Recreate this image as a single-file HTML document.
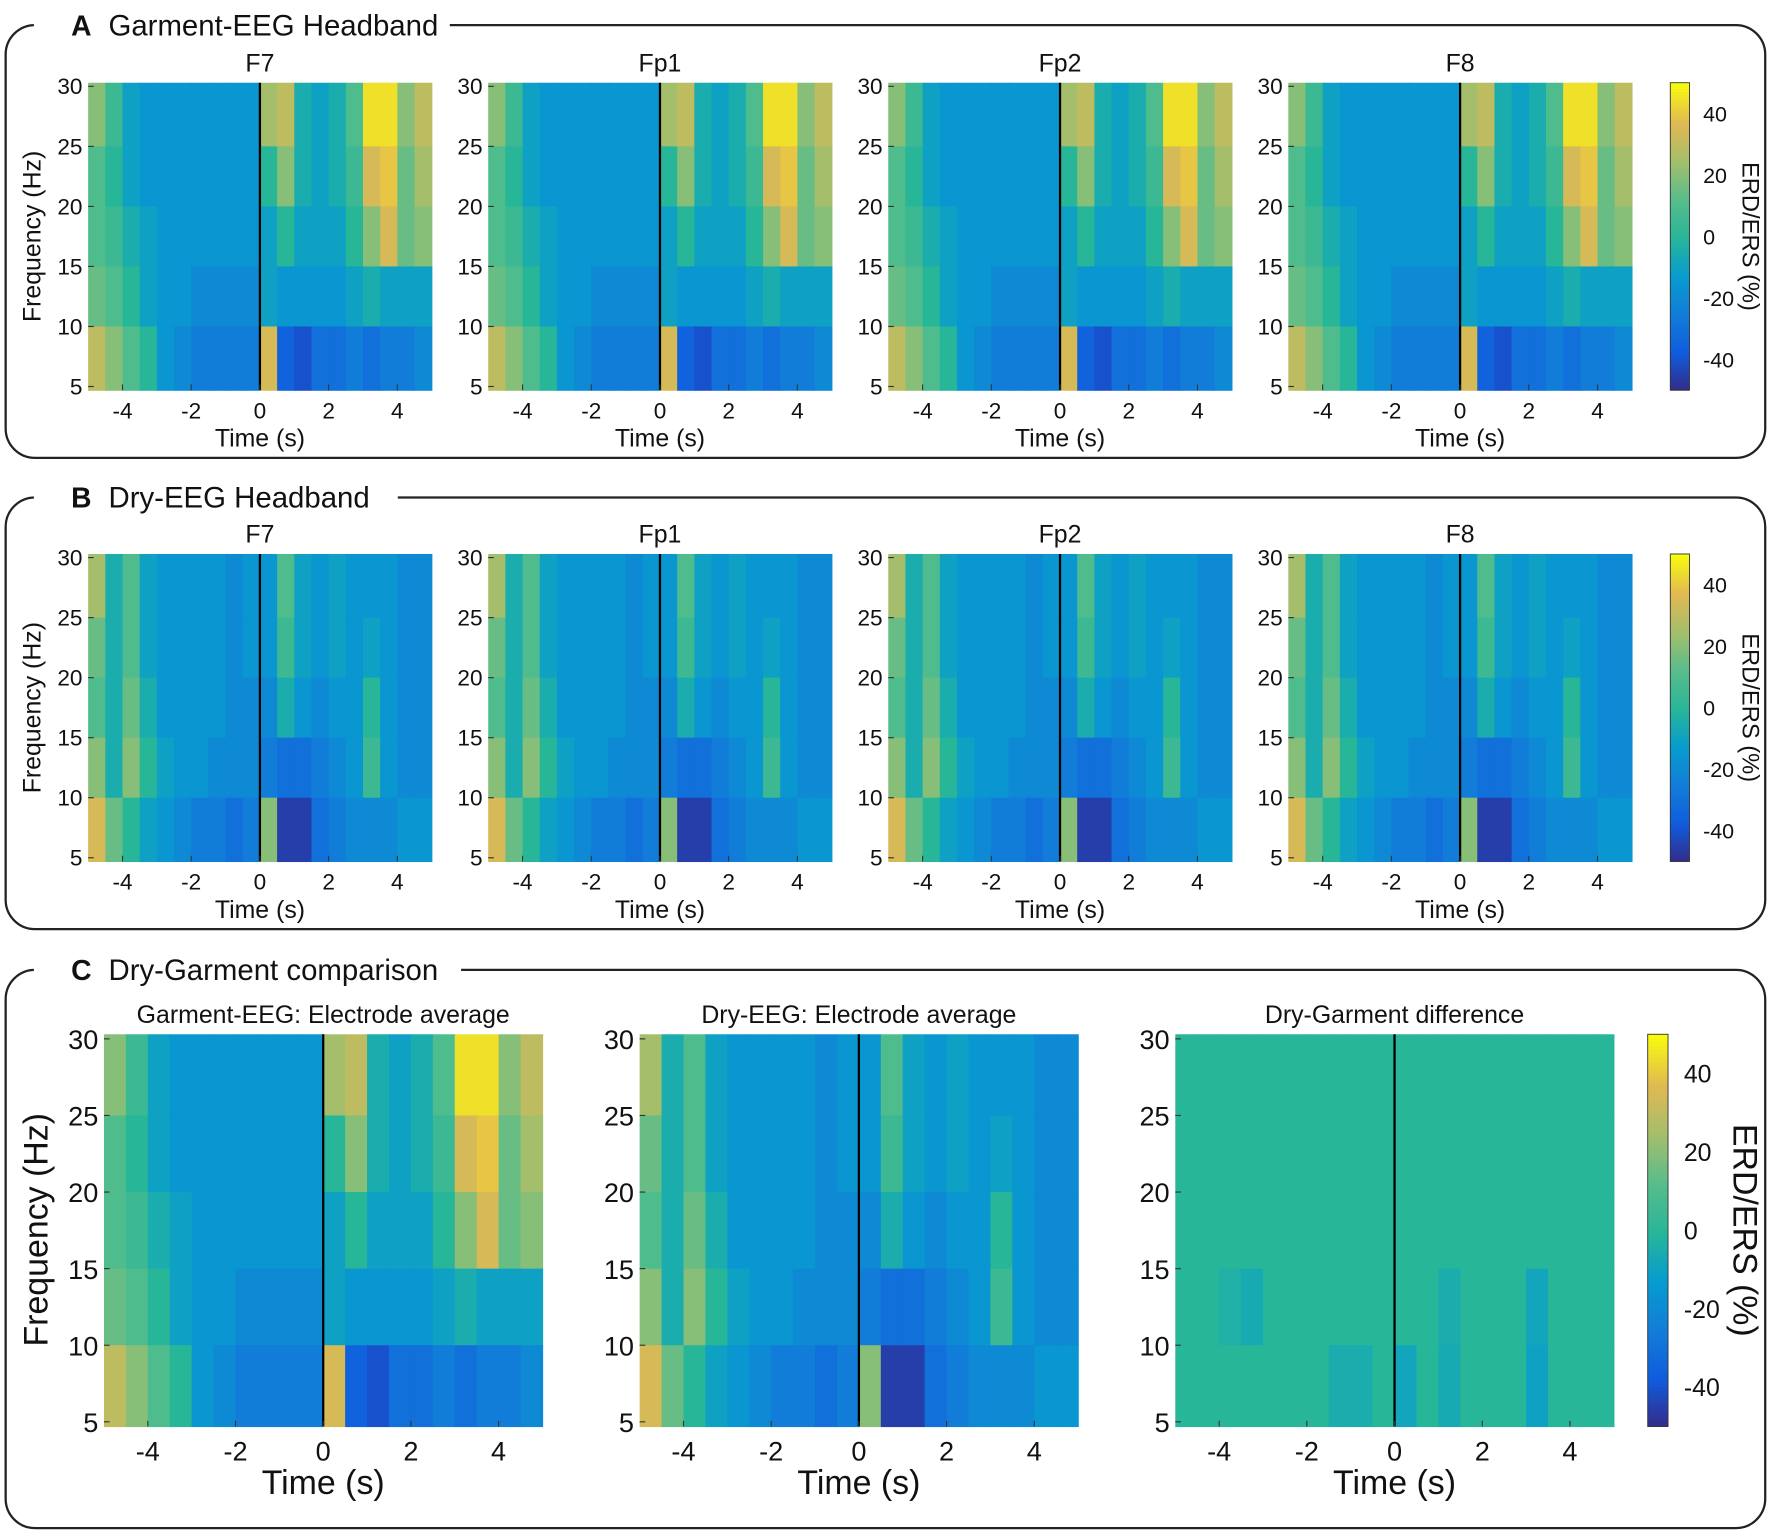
<!DOCTYPE html>
<html><head><meta charset="utf-8"><style>
html,body{margin:0;padding:0;background:#fff;}
svg{display:block;font-family:"Liberation Sans",Arial,sans-serif;}
</style></head><body>
<svg id="fig" width="1772" height="1534" viewBox="0 0 1568 1357" xmlns="http://www.w3.org/2000/svg"></svg>
<script>
// time bins (-5..5 step 0.5), freq bands (rows high->low)
const timeBins = [-5,-4.5,-4,-3.5,-3,-2.5,-2,-1.5,-1,-0.5,0,0.5,1,1.5,2,2.5,3,3.5,4,4.5];
const freqBands = [30,25,20,15,10,5];
const timeTicks = [-4,-2,0,2,4];
const freqTicks = [5,10,15,20,25,30];
const cbarTicks = [40,20,0,-20,-40];
const garment = [
 [20,5,-10,-15,-15,-15,-15,-15,-15,-15,25,30,-5,-10,-5,10,45,45,20,30],
 [10,0,-10,-15,-15,-15,-15,-15,-15,-15,0,20,-5,-10,-5,5,35,40,15,25],
 [10,5,-5,-10,-15,-15,-15,-15,-15,-15,-10,0,-10,-10,-10,0,20,35,15,20],
 [15,10,0,-10,-15,-15,-20,-20,-20,-20,-10,-15,-15,-15,-15,-10,-5,-10,-10,-10],
 [30,20,10,0,-15,-20,-25,-25,-25,-25,35,-35,-40,-30,-30,-25,-30,-25,-25,-20]
];
const dry = [
 [25,-5,10,-10,-15,-15,-15,-15,-20,-15,-15,10,-10,-15,-10,-15,-15,-15,-20,-20],
 [15,-5,10,-10,-15,-15,-15,-15,-20,-15,-15,5,-10,-15,-10,-15,-10,-15,-20,-20],
 [10,-5,15,-5,-15,-15,-15,-15,-20,-20,-20,-5,-15,-20,-15,-15,0,-15,-20,-20],
 [20,-5,20,0,-10,-15,-15,-20,-20,-20,-25,-30,-30,-25,-20,-15,5,-15,-20,-20],
 [35,15,0,-10,-15,-20,-25,-25,-30,-25,20,-45,-45,-30,-25,-20,-20,-20,-15,-15]
];
const diff = [
 [0,0,0,0,0,0,0,0,0,0,0,0,0,0,0,0,0,0,0,0],
 [0,0,0,0,0,0,0,0,0,0,0,0,0,0,0,0,0,0,0,0],
 [0,0,0,0,0,0,0,0,0,0,0,0,0,0,0,0,0,0,0,0],
 [0,0,-3,-6,0,0,0,0,0,0,0,0,-5,0,0,0,-8,0,0,0],
 [0,0,0,0,0,0,0,-5,-5,0,-8,0,-6,0,0,0,-10,0,0,0]
];
const electrodes = ["F7","Fp1","Fp2","F8"];

const NS="http://www.w3.org/2000/svg";
const svg=document.getElementById('fig');
function el(tag,attrs,parent){const e=document.createElementNS(NS,tag);for(const k in attrs)e.setAttribute(k,attrs[k]);(parent||svg).appendChild(e);return e;}
const stops=[[53,42,135],[15,92,221],[18,125,216],[7,156,207],[40,182,152],[89,189,140],[165,190,107],[225,185,82],[249,251,14]];
function color(v){let t=(v+50)/100;t=Math.max(0,Math.min(1,t));const p=t*(stops.length-1);const i=Math.min(stops.length-2,Math.floor(p));const f=p-i;const a=stops[i],b=stops[i+1];return `rgb(${a.map((c,j)=>Math.round(c+(b[j]-c)*f)).join(',')})`;}
function text(x,y,s,size,attrs){const t=el('text',Object.assign({x:x,y:y,'font-size':size,fill:'#111'},attrs||{}));t.textContent=s;return t;}

function heat(x0,y0,w,h,grid,title,big,name){
  const g=el('g',{});
  
  
  const xs=t=>x0+(t+5)/10*w;
  const ys=f=>y0+(30.3-f)/25.6*h;
  for(let r=0;r<grid.length;r++){for(let c=0;c<timeBins.length;c++){
    const xa=xs(timeBins[c]), xb=xs(timeBins[c]+0.5);
    const ya=r===0?y0:ys(freqBands[r]), yb=r===grid.length-1?y0+h:ys(freqBands[r+1]);
    const rc=el('rect',{x:xa,y:ya,width:xb-xa+0.6,height:yb-ya+0.6,fill:color(grid[r][c])},g);
    
    
  }}
  const zl=el('line',{x1:xs(0),x2:xs(0),y1:y0,y2:y0+h,stroke:'#000','stroke-width':2},g);
  
  
  const fs=big?24:20;
  timeTicks.forEach(t=>{el('line',{x1:xs(t),x2:xs(t),y1:y0+h,y2:y0+h-5,stroke:'#333'},g);const tt=text(xs(t),y0+h+(big?30:25),String(t),fs,{'text-anchor':'middle'});});
  freqTicks.forEach(f=>{el('line',{x1:x0,x2:x0+5,y1:ys(f),y2:ys(f),stroke:'#333'},g);const tt=text(x0-5,ys(f)+(big?9:7),String(f),fs,{'text-anchor':'end'});});
  const xl=text(x0+w/2,y0+h+(big?60:50),'Time (s)',big?30:22,{'text-anchor':'middle'});
  
  const tl=text(x0+w/2,y0-10,title,22,{'text-anchor':'middle'});
  
}
function colorbar(x0,y0,w,h,big){
  for(let i=0;i<100;i++){const v=50-i;el('rect',{x:x0,y:y0+i*h/100,width:w,height:h/100+0.5,fill:color(v)});}
  el('rect',{x:x0,y:y0,width:w,height:h,fill:'none',stroke:'#333','stroke-width':0.8});
  cbarTicks.forEach(v=>{const y=y0+(50-v)/100*h;const t=text(x0+w+(big?14:12),y+(big?8:7),String(v),big?22:19);});
  const cx=x0+w+(big?58:47), cy=y0+h/2;
  const t=text(cx,cy,'ERD/ERS (%)',big?30:21,{'text-anchor':'middle',transform:`rotate(90 ${cx} ${cy})`});
  
}
function box(y0,y1,label,title,tw,name){
  const r=el('rect',{x:5,y:y0,width:1557,height:y1-y0,rx:26,fill:'none',stroke:'#222','stroke-width':2});
  
  el('rect',{x:30,y:y0-14,width:tw,height:28,fill:'#fff'});
  const a=text(72,y0+9,label,25,{'font-weight':'bold','text-anchor':'middle'});
  
  const b=text(96,y0+9,title,26);
  
}
box(22,405,'A','Garment-EEG Headband',368,'panel-a-box');
box(440,822,'B','Dry-EEG Headband',322,'panel-b-box');
box(858,1352,'C','Dry-Garment comparison',378,'panel-c-box');
const xsA=[78,432,786,1140];
electrodes.forEach((e,i)=>heat(xsA[i],73,304,272,garment,e,false,'garment-'+e.toLowerCase()+'-heatmap'));
electrodes.forEach((e,i)=>heat(xsA[i],490,304,272,dry,e,false,'dry-'+e.toLowerCase()+'-heatmap'));
colorbar(1478,73,17,272,false);colorbar(1478,490,17,272,false);
heat(92,915,388,347,garment,'Garment-EEG: Electrode average',true,'garment-average-heatmap');
heat(566,915,388,347,dry,'Dry-EEG: Electrode average',true,'dry-average-heatmap');
heat(1040,915,388,347,diff,'Dry-Garment difference',true,'difference-heatmap');
colorbar(1458,915,18,347,true);
function ylab(x,y,size){const t=text(x,y,'Frequency (Hz)',size,{'text-anchor':'middle',transform:`rotate(-90 ${x} ${y})`});}
ylab(36,209,22);ylab(36,626,22);ylab(42,1088,30);
</script>
</body></html>
